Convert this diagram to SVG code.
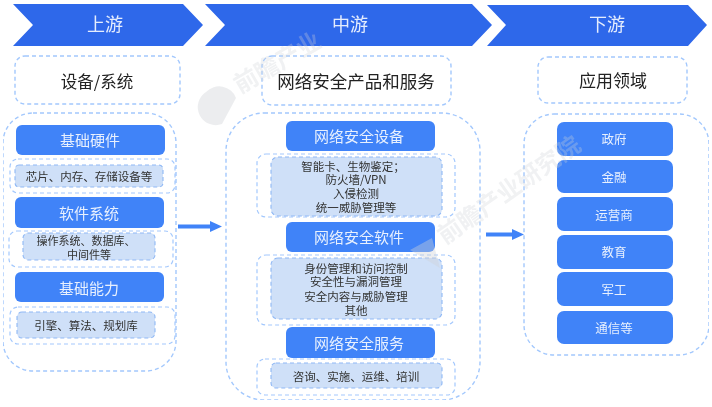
<svg xmlns="http://www.w3.org/2000/svg" width="712" height="407" viewBox="0 0 712 407">
<defs><filter id="soft" x="0" y="0" width="100%" height="100%"><feGaussianBlur stdDeviation="0.35"/></filter></defs>
<style>
text{font-family:"Noto Sans CJK SC","Noto Sans",sans-serif;text-anchor:middle}
.hd{fill:#2f67ea}
.hdt{font-size:18px;fill:#e4edfd}
.dash{fill:#fff;stroke:#a3c8fd;stroke-width:1.4;stroke-dasharray:4 3}
.sub{fill:none;stroke:#a3c8fd;stroke-width:1.2;stroke-dasharray:4 3}
.in{fill:#cfe0f8;stroke:#8fb8f5;stroke-width:1.1;stroke-dasharray:4 3}
.btn{fill:#3f83f8}
.bt{font-size:15px;fill:#e8f0fe}
.it{font-size:12.500px;fill:#e8f0fe}
.tt{font-size:17px;fill:#222}
.st{font-size:11.500px;fill:#333}
.wm{font-size:24px;fill:#cfd3d8;font-weight:700;opacity:.3;text-anchor:start}
.logo{fill:#cfd3d8;opacity:.4}
.conn{fill:#3f83f8}
</style>
<rect width="712" height="407" fill="#fff"/>
<g filter="url(#soft)">
<g id="panels">
<rect class="dash" x="15" y="56" width="165" height="48" rx="10"/>
<rect class="dash" x="262" y="56" width="189" height="49" rx="10"/>
<rect class="dash" x="538" y="57" width="149" height="46" rx="10"/>
<rect class="dash" x="3" y="113" width="173" height="258" rx="30"/>
<rect class="dash" x="226" y="113" width="254" height="287" rx="38"/>
<rect class="dash" x="524" y="114" width="185" height="241" rx="30"/>
</g>
<g id="upstream-header"><polygon class="hd" points="13,4 183,4 203,25 183,46 13,46 33,25"/><text class="hdt" x="105" y="31">上游</text></g>
<g id="midstream-header"><polygon class="hd" points="205,4 472,4 492,25 472,46 205,46 225,25"/><text class="hdt" x="350" y="31">中游</text></g>
<g id="downstream-header"><polygon class="hd" points="487,5 688,5 707,25 688,46 487,46 506,25"/><text class="hdt" x="607" y="31">下游</text></g>
<g id="title-up"><text class="tt" x="97" y="88" style="font-size:16.500px">设备/系统</text></g>
<g id="title-mid"><text class="tt" x="356" y="88" style="font-size:17.500px">网络安全产品和服务</text></g>
<g id="title-down"><text class="tt" x="613" y="87">应用领域</text></g>
<g id="up-hardware"><rect class="btn" x="16" y="125" width="149" height="30" rx="6"/><text class="bt" x="90" y="146">基础硬件</text></g>
<g id="up-hardware-detail"><rect class="sub" x="10" y="159" width="165" height="34" rx="8"/><rect class="in" x="15" y="165" width="148" height="22" rx="4"/><text class="st" x="89" y="181">芯片、内存、存储设备等</text></g>
<g id="up-software"><rect class="btn" x="15" y="197" width="149" height="31" rx="6"/><text class="bt" x="89" y="219">软件系统</text></g>
<g id="up-software-detail"><rect class="sub" x="9" y="231" width="164" height="36" rx="8"/><rect class="in" x="23" y="233" width="132" height="27" rx="5"/><text class="st" style="font-size:11px"><tspan x="86" y="245">操作系统、数据库、</tspan><tspan x="89" y="259">中间件等</tspan></text></g>
<g id="up-ability"><rect class="btn" x="15" y="272" width="149" height="30" rx="6"/><text class="bt" x="89" y="294">基础能力</text></g>
<g id="up-ability-detail"><rect class="sub" x="10" y="307" width="165" height="37" rx="8"/><rect class="in" x="17" y="312" width="138" height="26" rx="5"/><text class="st" x="86" y="330">引擎、算法、规划库</text></g>
<g id="mid-device"><rect class="btn" x="286" y="121" width="149" height="30" rx="6"/><text class="bt" x="359" y="142">网络安全设备</text></g>
<g id="mid-device-detail"><rect class="sub" x="257" y="154" width="198" height="63" rx="9"/><rect class="in" x="271" y="157" width="171" height="59" rx="7"/><text class="st"><tspan x="353" y="171">智能卡、生物鉴定；</tspan><tspan x="356" y="184">防火墙/VPN</tspan><tspan x="356" y="198">入侵检测</tspan><tspan x="356" y="212">统一威胁管理等</tspan></text></g>
<g id="mid-software"><rect class="btn" x="286" y="222" width="149" height="30" rx="6"/><text class="bt" x="359" y="243">网络安全软件</text></g>
<g id="mid-software-detail"><rect class="sub" x="257" y="255" width="198" height="70" rx="9"/><rect class="in" x="271" y="258" width="171" height="61" rx="7"/><text class="st"><tspan x="356" y="273">身份管理和访问控制</tspan><tspan x="356" y="286">安全性与漏洞管理</tspan><tspan x="356" y="301">安全内容与威胁管理</tspan><tspan x="356" y="315">其他</tspan></text></g>
<g id="mid-service"><rect class="btn" x="286" y="327" width="149" height="31" rx="6"/><text class="bt" x="359" y="349">网络安全服务</text></g>
<g id="mid-service-detail"><rect class="sub" x="257" y="359" width="198" height="36" rx="8"/><rect class="in" x="271" y="363" width="171" height="25" rx="5"/><text class="st" x="356" y="381">咨询、实施、运维、培训</text></g>
<g id="down-gov"><rect class="btn" x="557" y="122" width="116" height="34" rx="7"/><text class="it" x="614" y="144">政府</text></g>
<g id="down-finance"><rect class="btn" x="557" y="160" width="116" height="33" rx="7"/><text class="it" x="614" y="182">金融</text></g>
<g id="down-carrier"><rect class="btn" x="557" y="197" width="116" height="34" rx="7"/><text class="it" x="614" y="220">运营商</text></g>
<g id="down-edu"><rect class="btn" x="557" y="235" width="116" height="34" rx="7"/><text class="it" x="614" y="257">教育</text></g>
<g id="down-mil"><rect class="btn" x="557" y="272" width="116" height="34" rx="7"/><text class="it" x="614" y="295">军工</text></g>
<g id="down-other"><rect class="btn" x="557" y="311" width="116" height="33" rx="7"/><text class="it" x="614" y="333">通信等</text></g>
<g id="connectors">
<polygon class="conn" points="178,224.500 210,224.500 210,221 222,226.500 210,232 210,228.500 178,228.500"/>
<polygon class="conn" points="486,232.500 512,232.500 512,229 524,234.500 512,240 512,236.500 486,236.500"/>
</g>
<g id="watermark">
<text class="wm" transform="translate(240 94) rotate(-30)">前瞻产业</text>
<text class="wm" transform="translate(445 245) rotate(-35)">前瞻产业研究院</text>
<path class="logo" d="M206 92a18 18 0 0 1 30 6l-14 26a18 18 0 0 1-16-32z"/>
<path class="logo" d="M410 250l22-12 8 30z"/>
</g>
</g>
</svg>
